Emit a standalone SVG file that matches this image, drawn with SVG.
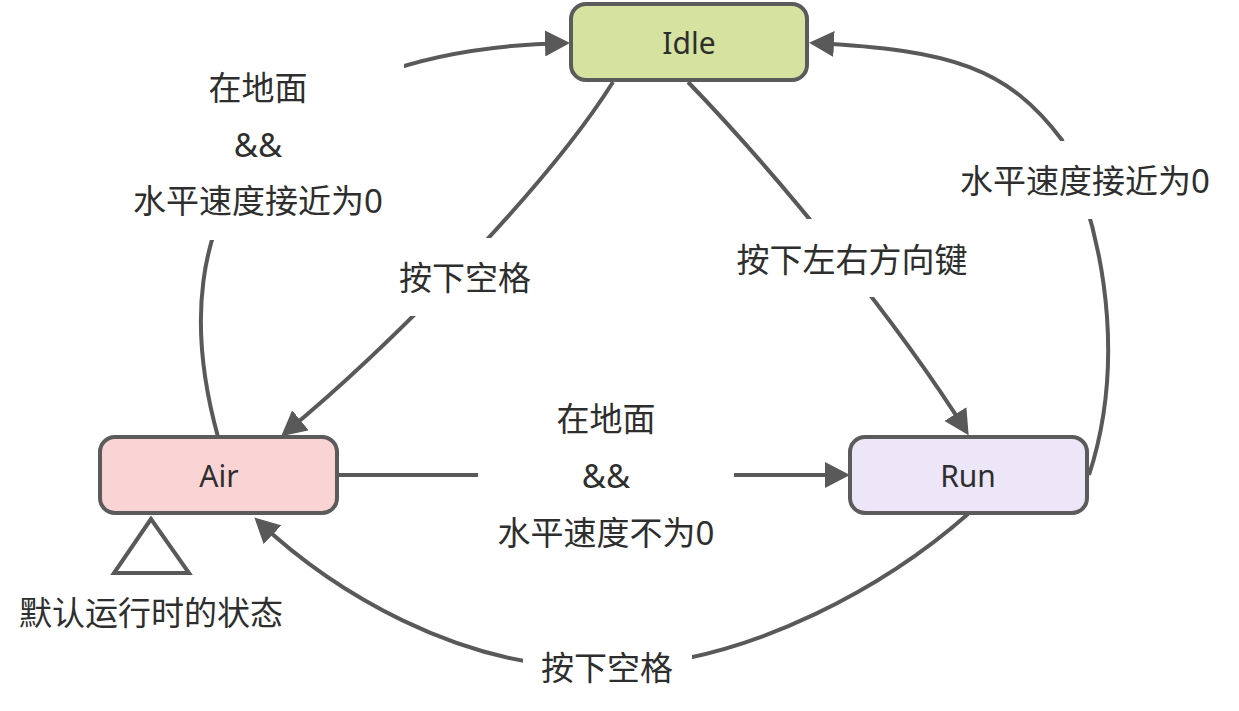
<svg xmlns="http://www.w3.org/2000/svg" width="1239" height="711" viewBox="0 0 1239 711">
<style>
.node rect{stroke:#5b5b5b;stroke-width:4}
.ntext{font-family:"Noto Sans","Open Sans","Noto Sans CJK SC",sans-serif;font-size:30px;fill:#2e2e2e;text-anchor:middle;dominant-baseline:central}
.edge{fill:none;stroke:#595959;stroke-width:4}
.lbg{fill:#fff;stroke:none}
.ltext{font-family:"Noto Sans","Noto Sans CJK SC",sans-serif;font-size:33px;fill:#2e2e2e;text-anchor:middle;dominant-baseline:central}
</style>
<defs>
<marker id="arrow" markerUnits="userSpaceOnUse" markerWidth="26" markerHeight="26" viewBox="0 0 26 26" refX="20" refY="13" orient="auto">
<path d="M0,0 L25,13 L0,26 Z" fill="#595959"/>
</marker>
</defs>
<g id="connectors">
<path class="edge" d="M218,437 C155,210 265,50 565,43" marker-end="url(#arrow)"/>
<path class="edge" d="M613,82 C544,192 381,354 285,433" marker-end="url(#arrow)"/>
<path class="edge" d="M688,82 C779,176 899,324 966,431" marker-end="url(#arrow)"/>
<path class="edge" d="M1089,475 C1120,380 1115,260 1062,140 C1008,68 952,50 814,43" marker-end="url(#arrow)"/>
<path class="edge" d="M337,475 L845,475" marker-end="url(#arrow)"/>
<path class="edge" d="M968,514 C893,580 757,663 607,668 C457,671 328,587 258,521" marker-end="url(#arrow)"/>
</g>
<g id="label-air-idle">
<rect class="lbg" x="112" y="58" width="292" height="182"/>
<text class="ltext" x="258" y="87">在地面</text>
<text class="ltext" x="258" y="144">&amp;&amp;</text>
<text class="ltext" x="258" y="200">水平速度接近为0</text>
</g>
<g id="label-idle-air">
<rect class="lbg" x="395" y="238" width="140" height="78"/>
<text class="ltext" x="465" y="277">按下空格</text>
</g>
<g id="label-idle-run">
<rect class="lbg" x="727" y="219" width="250" height="78"/>
<text class="ltext" x="852" y="259">按下左右方向键</text>
</g>
<g id="label-run-idle">
<rect class="lbg" x="950" y="141" width="270" height="78"/>
<text class="ltext" x="1085" y="180">水平速度接近为0</text>
</g>
<g id="label-air-run">
<rect class="lbg" x="478" y="395" width="256" height="160"/>
<text class="ltext" x="606" y="418">在地面</text>
<text class="ltext" x="606" y="475">&amp;&amp;</text>
<text class="ltext" x="606" y="532">水平速度不为0</text>
</g>
<g id="label-run-air">
<rect class="lbg" x="523" y="640" width="169" height="56"/>
<text class="ltext" x="607" y="667">按下空格</text>
</g>
<g id="node-idle" class="node">
<rect x="571" y="4" width="236" height="76" rx="15" fill="#d5e2a0"/>
<text class="ntext" x="689" y="42">Idle</text>
</g>
<g id="node-air" class="node">
<rect x="100" y="437" width="237" height="76" rx="15" fill="#fad4d4"/>
<text class="ntext" x="219" y="475">Air</text>
</g>
<g id="node-run" class="node">
<rect x="850" y="437" width="237" height="76" rx="15" fill="#ece6f8"/>
<text class="ntext" x="968" y="475">Run</text>
</g>
<g id="initial-state">
<polygon points="151,519 114,573 189,573" fill="#fff" stroke="#595959" stroke-width="4" stroke-linejoin="miter"/>
<text class="ltext" x="151" y="612">默认运行时的状态</text>
</g>
</svg>
